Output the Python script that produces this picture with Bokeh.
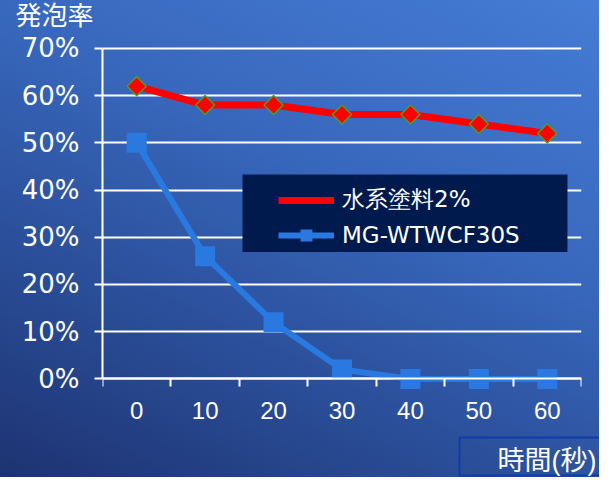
import numpy as np
from bokeh.plotting import figure
from bokeh.models import (ColumnDataSource, FixedTicker, Range1d, Legend, LegendItem,
                          BoxAnnotation, Title)
from bokeh.embed import file_html
from bokeh.resources import INLINE

# ---- data ----
times = [0, 10, 20, 30, 40, 50, 60]
x_labels = ["0", "10", "20", "30", "40", "50", "60"]
water_paint = [62, 58, 58, 56, 56, 54, 52]
mg_wtwcf30s = [50, 26, 12, 2, 0, 0, 0]
y_ticks = [0, 10, 20, 30, 40, 50, 60, 70]
y_labels = ["0%", "10%", "20%", "30%", "40%", "50%", "60%", "70%"]
series_names = ["水系塗料2%", "MG-WTWCF30S"]
y_title = "発泡率"
x_title = "時間(秒)"

# ---- layout constants (pixels) ----
W, H = 599, 477
TOP, BOTTOM = 31, 38            # border sizes
Y0_PX, Y70_PX = 380, 47         # where 0% and 70% sit on the canvas
pu = (Y0_PX - Y70_PX) / 70.0    # px per percent
frame_bottom = H - BOTTOM
y_start = -(frame_bottom - Y0_PX) / pu
y_end = 70 + (Y70_PX - TOP) / pu

TXT_FONT = "Liberation Sans, Noto Sans CJK JP"

p = figure(width=W, height=H, output_backend="svg", toolbar_location=None,
           x_range=Range1d(-5, 65), y_range=Range1d(y_start, y_end),
           min_border_left=102, min_border_right=18, min_border_top=TOP, min_border_bottom=BOTTOM,
           background_fill_color=None, border_fill_color=None, outline_line_color=None)
p.styles = {"background": "linear-gradient(205deg, #457CD5 0%, #3868BD 38%, #2B4F9A 68%, #1D3371 100%)"}

# axes
xa = p.xaxis[0]
xa.fixed_location = 0
xa.ticker = FixedTicker(ticks=times, minor_ticks=[t - 5 for t in times] + [65])
xa.major_label_overrides = {t: l for t, l in zip(times, x_labels)}
xa.major_tick_out = 0
xa.major_tick_in = 0
xa.minor_tick_out = 8
xa.minor_tick_in = 0
xa.minor_tick_line_color = "white"
xa.minor_tick_line_width = 2
xa.axis_line_color = "white"
xa.axis_line_width = 2
xa.major_label_text_color = "white"
xa.major_label_text_font = "Liberation Sans"
xa.major_label_text_font_size = "24px"
xa.major_label_standoff = 15

ya = p.yaxis[0]
ya.bounds = (0, 70)
ya.ticker = FixedTicker(ticks=y_ticks, minor_ticks=[])
ya.major_label_overrides = {t: l for t, l in zip(y_ticks, y_labels)}
ya.major_tick_out = 8
ya.major_tick_in = 0
ya.major_tick_line_color = "white"
ya.major_tick_line_width = 2
ya.axis_line_color = "white"
ya.axis_line_width = 2
ya.major_label_text_color = "white"
ya.major_label_text_font = "DejaVu Sans"
ya.major_label_text_font_size = "26px"
ya.major_label_standoff = 15

p.xgrid.grid_line_color = None
p.ygrid.ticker = FixedTicker(ticks=y_ticks)
p.ygrid.grid_line_color = "white"
p.ygrid.grid_line_width = 2

src = ColumnDataSource(dict(x=times, a=water_paint, b=mg_wtwcf30s))

r_line = p.line("x", "a", source=src, line_color="#FF0000", line_width=7)
r_mark = p.scatter("x", "a", source=src, marker="square", size=13.5, angle=np.pi / 4,
                   fill_color="#FF0000", line_color="#4E9A2C", line_width=1.5)
b_line = p.line("x", "b", source=src, line_color="#2A79E0", line_width=6)
b_mark = p.scatter("x", "b", source=src, marker="square", size=20,
                   fill_color="#2A79E0", line_color="#2A79E0", line_width=0)
# legend-only diamond swatch (no data)
r_key = p.scatter(x=[], y=[], marker="diamond", size=12,
                  fill_color="#FF0000", line_color="#4E9A2C", line_width=1.5)

# legend box
box = BoxAnnotation(left=15.46, right=62.95, top=43.3, bottom=26.9,
                    fill_color="#001A4E", fill_alpha=1, line_color=None)
p.add_layout(box)

legend = Legend(items=[LegendItem(label=series_names[0], renderers=[r_line, r_key]),
                       LegendItem(label=series_names[1], renderers=[b_line, b_mark])],
                location=(176, 128 + (frame_bottom - Y0_PX)), background_fill_alpha=0,
                border_line_color=None,
                padding=4, spacing=5, glyph_width=56, glyph_height=30, label_height=30,
                label_standoff=8, label_text_color="white",
                label_text_font="DejaVu Sans", label_text_font_size="23px")
p.add_layout(legend)

p.add_layout(Title(text=y_title, align="left", offset=-87, standoff=0, vertical_align="top",
                   text_color="white", text_font=TXT_FONT,
                   text_font_size="26px", text_font_style="normal"), "above")
p.add_layout(Title(text=x_title, align="left", offset=357, standoff=0, vertical_align="top",
                   text_color="white", text_font=TXT_FONT,
                   text_font_size="27px", text_font_style="normal",
                   border_line_color="#0E3CA8", border_line_width=2,
                   padding=dict(left=38, right=4, top=8, bottom=0)), "below")

open("out.html", "w").write(file_html(p, INLINE))
